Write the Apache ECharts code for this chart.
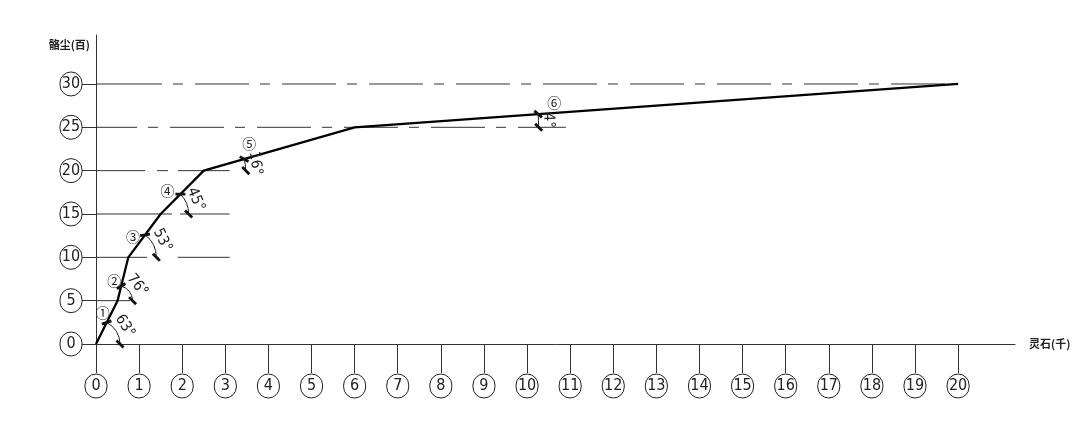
<!DOCTYPE html>
<html>
<head>
<meta charset="utf-8">
<script src="https://cdn.jsdelivr.net/npm/echarts@6/dist/echarts.min.js"></script>
<style>
  html, body { margin: 0; padding: 0; background: #fff; }
  #main { width: 1080px; height: 421px; }
</style>
</head>
<body>
<div id="main"></div>
<script>
// 折线拐点 灵石(千) / 骼尘(百)
const lingshi = [0, 0.5, 0.75, 1.5, 2.5, 6, 20]
const guchen = [0, 5, 10, 15, 20, 25, 30]
// 每段坡角标注
const angleText = ['63°', '76°', '53°', '45°', '16°', '4°']
const segMark = ['①', '②', '③', '④', '⑤', '⑥']
// 刻度
const xTicks = [0, 1, 2, 3, 4, 5, 6, 7, 8, 9, 10, 11, 12, 13, 14, 15, 16, 17, 18, 19, 20]
const yTicks = [0, 5, 10, 15, 20, 25, 30]
// 水平参考线 (高度 / 终点)
const refY = [5, 10, 15, 20, 25, 30]
const refEnd = [0.8, 3.1, 3.1, 3.1, 10.9, 20]

// 样式参数
const arcR = [24, 15, 28, 28, 42, 184]
const markOff = [[-4, -10], [-7, -5], [-12, 2], [-13, -3], [5, -15], [16, -11]]
const dashDot = [54, 11, 10, 12]
let topDash = [66, 11, 10, 12]
for (let k = 0; k < 11; k++) topDash = topDash.concat(dashDot)
const refDash = [
  'solid',
  [51, 31, 200],
  [76, 8, 200],
  [49, 12, 11, 10, 200],
  dashDot,
  topDash
]
const refDashOffset = [0, 0, 0, 0, 13, 0]

const narrow = "'Liberation Sans Narrow', 'DejaVu Sans Condensed', sans-serif"
const circleLabel = {
  width: 22,
  height: 24,
  lineHeight: 24,
  align: 'center',
  borderColor: '#222',
  borderWidth: 1,
  borderRadius: 12,
  fontSize: 16,
  fontFamily: narrow,
  color: '#222'
}

const myChart = echarts.init(document.getElementById('main'))

const series = []
refY.forEach((y, i) => {
  series.push({
    type: 'line',
    silent: true,
    symbol: 'none',
    z: 1,
    data: [[0, y], [refEnd[i], y]],
    lineStyle: { color: '#333', width: 1, type: refDash[i], dashOffset: refDashOffset[i] }
  })
})

series.push({
  type: 'line',
  silent: true,
  symbol: 'none',
  z: 3,
  data: lingshi.map((x, i) => [x, guchen[i]]),
  lineStyle: { color: '#000', width: 2.3 }
})

series.push({
  type: 'custom',
  silent: true,
  z: 4,
  clip: false,
  data: angleText.map((t, i) => [lingshi[i], guchen[i], lingshi[i + 1], guchen[i + 1]]),
  renderItem: function(params, api) {
    const i = params.dataIndex
    const p0 = api.coord([api.value(0), api.value(1)])
    const p1 = api.coord([api.value(2), api.value(3)])
    const th = Math.atan2(p0[1] - p1[1], p1[0] - p0[0])
    const r = arcR[i]
    const m = [p0[0] + r * Math.cos(th), p0[1] - r * Math.sin(th)]
    const e = [p0[0] + r, p0[1]]
    const tick = function(pt, ang) {
      const a = ang + Math.PI / 4
      const L = 5
      return {
        type: 'line',
        shape: {
          x1: pt[0] - L * Math.cos(a), y1: pt[1] + L * Math.sin(a),
          x2: pt[0] + L * Math.cos(a), y2: pt[1] - L * Math.sin(a)
        },
        style: { stroke: '#111', lineWidth: 2.8 }
      }
    }
    const mid = th / 2
    const tr = r + 10
    return {
      type: 'group',
      children: [
        {
          type: 'arc',
          shape: { cx: p0[0], cy: p0[1], r: r, startAngle: -th, endAngle: 0, clockwise: true },
          style: { stroke: '#222', lineWidth: 1, fill: null }
        },
        tick(m, th - Math.PI / 2),
        tick(e, -Math.PI / 2),
        {
          type: 'text',
          x: p0[0] + tr * Math.cos(mid),
          y: p0[1] - tr * Math.sin(mid),
          rotation: mid - Math.PI / 2,
          style: {
            text: angleText[i],
            align: 'center',
            verticalAlign: 'middle',
            font: '15px ' + narrow,
            fill: '#222'
          }
        },
        {
          type: 'text',
          x: m[0] + markOff[i][0],
          y: m[1] + markOff[i][1],
          style: {
            text: segMark[i],
            align: 'center',
            verticalAlign: 'middle',
            font: '14px "Noto Sans CJK SC"',
            fill: '#222'
          }
        }
      ]
    }
  }
})

const option = {
  animation: false,
  backgroundColor: '#fff',
  grid: { left: 96, top: 35, right: 65, bottom: 77 },
  xAxis: {
    type: 'value',
    min: 0,
    max: 21.32,
    name: '灵石(千)',
    nameGap: 14,
    nameTextStyle: { fontFamily: 'Noto Sans CJK SC', fontSize: 11, color: '#222', fontWeight: 'bold' },
    axisLine: { show: true, lineStyle: { color: '#333', width: 1 } },
    axisTick: { show: true, customValues: xTicks, length: 29, lineStyle: { color: '#333', width: 1 } },
    axisLabel: {
      customValues: xTicks,
      margin: 30,
      formatter: v => '{c|' + v + '}',
      rich: { c: circleLabel }
    },
    splitLine: { show: false }
  },
  yAxis: {
    type: 'value',
    min: 0,
    max: 35.65,
    name: '骼尘(百)',
    nameLocation: 'end',
    nameGap: -10,
    nameTextStyle: {
      fontFamily: 'Noto Sans CJK SC', fontSize: 11, color: '#222', fontWeight: 'bold',
      align: 'right', verticalAlign: 'middle', padding: [0, 6, 0, 0]
    },
    axisLine: { show: true, lineStyle: { color: '#333', width: 1 } },
    axisTick: { show: true, customValues: yTicks, length: 14, lineStyle: { color: '#333', width: 1 } },
    axisLabel: {
      customValues: yTicks,
      margin: 14,
      formatter: v => '{c|' + v + '}',
      rich: { c: circleLabel }
    },
    splitLine: { show: false }
  },
  series: series
}

myChart.setOption(option)
</script>
</body>
</html>
